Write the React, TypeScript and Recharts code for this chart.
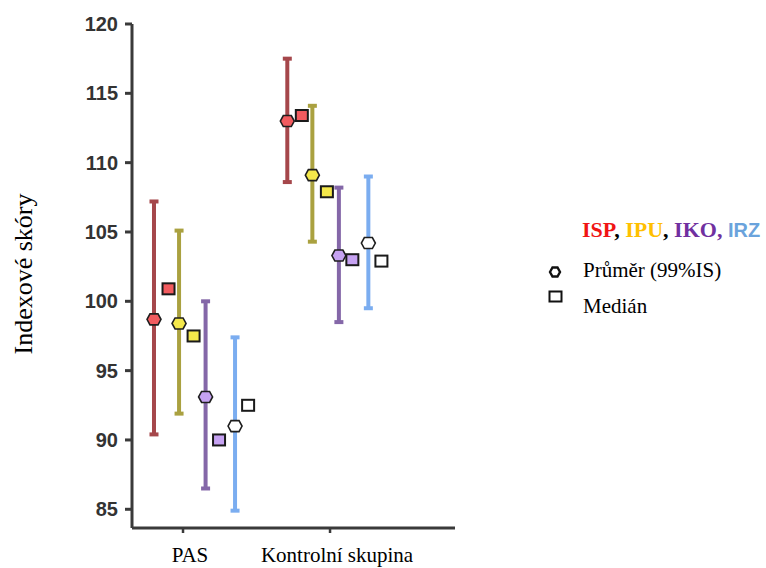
import { ComposedChart, Scatter, XAxis, YAxis, ErrorBar } from "recharts";

const groups = ["PAS", "Kontrolní skupina"];
const scaleNames = ["ISP", "IPU", "IKO", "IRZ"];

// mean with 99% CI and median, per group
const ispMean = [98.7, 113.0];
const ispLow = [90.4, 108.6];
const ispHigh = [107.2, 117.5];
const ispMedian = [100.9, 113.4];

const ipuMean = [98.4, 109.1];
const ipuLow = [91.9, 104.3];
const ipuHigh = [105.1, 114.1];
const ipuMedian = [97.5, 107.9];

const ikoMean = [93.1, 103.3];
const ikoLow = [86.5, 98.5];
const ikoHigh = [100.0, 108.2];
const ikoMedian = [90.0, 103.0];

const irzMean = [91.0, 104.2];
const irzLow = [84.9, 99.5];
const irzHigh = [97.4, 109.0];
const irzMedian = [92.5, 102.9];

const yTicks = [85, 90, 95, 100, 105, 110, 115, 120];

const stats = [
  { mean: ispMean, low: ispLow, high: ispHigh, median: ispMedian },
  { mean: ipuMean, low: ipuLow, high: ipuHigh, median: ipuMedian },
  { mean: ikoMean, low: ikoLow, high: ikoHigh, median: ikoMedian },
  { mean: irzMean, low: irzLow, high: irzHigh, median: irzMedian },
];

const barColors = ["#a5474b", "#aaa140", "#8467a8", "#7badf0"];
const markColors = ["#f25b5f", "#f4e84b", "#c6a2f2", "#ffffff"];

// horizontal dodge of each mark inside its group (in group units)
const meanDodge = [-0.353, -0.165, 0.034, 0.255];
const medianDodge = [-0.244, -0.056, 0.135, 0.353];

const serif = "'Liberation Serif', 'Times New Roman', serif";
const sans = "'Liberation Sans', Arial, sans-serif";
const axisColor = "#3a3a3a";

const groupRows = groups.map((g, i) => ({ idx: i, group: g }));

const meanRows = (k: number) =>
  groups.map((g, i) => {
    const s = stats[k];
    return {
      group: g,
      x: i + meanDodge[k],
      y: s.mean[i],
      err: [s.mean[i] - s.low[i], s.high[i] - s.mean[i]],
    };
  });

const medianRows = (k: number) =>
  groups.map((g, i) => ({ group: g, x: i + medianDodge[k], y: stats[k].median[i] }));

const meanShape = (fill: string) => (props: any) => {
  const { cx, cy } = props;
  const pts = [
    [cx - 7, cy],
    [cx - 4, cy - 5.5],
    [cx + 4, cy - 5.5],
    [cx + 7, cy],
    [cx + 4, cy + 5.5],
    [cx - 4, cy + 5.5],
  ]
    .map((p) => p.join(","))
    .join(" ");
  return <polygon points={pts} fill={fill} stroke="#1e1e1e" strokeWidth={1.6} />;
};

const medianShape = (fill: string) => (props: any) => {
  const { cx, cy } = props;
  return (
    <rect x={cx - 6} y={cy - 5.5} width={12} height={11} fill={fill} stroke="#1a1a1a" strokeWidth={2} />
  );
};

const YLabel = () => (
  <text
    x={23}
    y={274}
    transform="rotate(-90 23 274)"
    textAnchor="middle"
    dominantBaseline="central"
    fontFamily={serif}
    fontSize={26}
    fill="#000"
  >
    Indexové skóry
  </text>
);

const Legend = () => (
  <svg
    width={766}
    height={568}
    style={{ position: "absolute", left: 0, top: 0, pointerEvents: "none" }}
  >
    <text x={582} y={237} fontFamily={serif} fontSize={22} fontWeight="bold">
      <tspan fill="#f01414">ISP</tspan>
      <tspan fill="#000">, </tspan>
      <tspan fill="#ffc000">IPU</tspan>
      <tspan fill="#000">, </tspan>
      <tspan fill="#7030a0">IKO, </tspan>
      <tspan fill="#6aa3dc" fontFamily={sans} fontSize={20}>
        IRZ
      </tspan>
    </text>
    <polygon
      points="550,272 552.5,267.5 557.5,267.5 560,272 557.5,276.5 552.5,276.5"
      fill="#fff"
      stroke="#111"
      strokeWidth={2.4}
    />
    <text x={583} y={277} fontFamily={serif} fontSize={21} fill="#000">
      Průměr (99%IS)
    </text>
    <rect x={549.5} y={291.5} width={12} height={10} fill="#fff" stroke="#111" strokeWidth={2} />
    <text x={583} y={313} fontFamily={serif} fontSize={21} fill="#000">
      Medián
    </text>
  </svg>
);

export default function App() {
  return (
    <div
      style={{
        position: "absolute",
        left: 0,
        top: 0,
        width: 766,
        height: 568,
        overflow: "hidden",
        background: "#fff",
      }}
    >
      <ComposedChart
        width={766}
        height={568}
        data={groupRows}
        margin={{ top: 24, right: 311, left: 0, bottom: 0 }}
      >
        <XAxis
          xAxisId="lab"
          dataKey="idx"
          type="number"
          domain={[-0.347, 1.85]}
          ticks={[0, 1]}
          tickFormatter={(v: number) => groups[v]}
          allowDataOverflow
          height={40}
          axisLine={{ stroke: axisColor, strokeWidth: 3 }}
          tickLine={{ stroke: axisColor, strokeWidth: 2.5 }}
          tickSize={5}
          tickMargin={14}
          tick={{ fontFamily: serif, fontSize: 21, fill: "#000", dx: 7 }}
        />
        <XAxis xAxisId="num" dataKey="x" type="number" domain={[-0.518, 1.905]} allowDataOverflow hide />
        <YAxis
          dataKey="y"
          type="number"
          domain={[83.65, 120]}
          ticks={yTicks}
          allowDataOverflow
          width={132}
          axisLine={{ stroke: axisColor, strokeWidth: 3 }}
          tickLine={{ stroke: axisColor, strokeWidth: 3 }}
          tickSize={7}
          tickMargin={7}
          tick={{ fontFamily: sans, fontSize: 20, fontWeight: "bold", fill: "#333" }}
          label={{ content: () => <YLabel /> }}
        />
        {scaleNames.map((name, k) => (
          <Scatter
            key={name + "-mean"}
            name={name}
            xAxisId="num"
            data={meanRows(k)}
            fill={markColors[k]}
            shape={meanShape(markColors[k])}
            isAnimationActive={false}
          >
            <ErrorBar
              dataKey="err"
              direction="y"
              width={4.5}
              stroke={barColors[k]}
              strokeWidth={4}
              isAnimationActive={false}
            />
          </Scatter>
        ))}
        {scaleNames.map((name, k) => (
          <Scatter
            key={name + "-median"}
            name={name + " medián"}
            xAxisId="num"
            data={medianRows(k)}
            fill={markColors[k]}
            shape={medianShape(markColors[k])}
            isAnimationActive={false}
          />
        ))}
      </ComposedChart>
      <Legend />
    </div>
  );
}
